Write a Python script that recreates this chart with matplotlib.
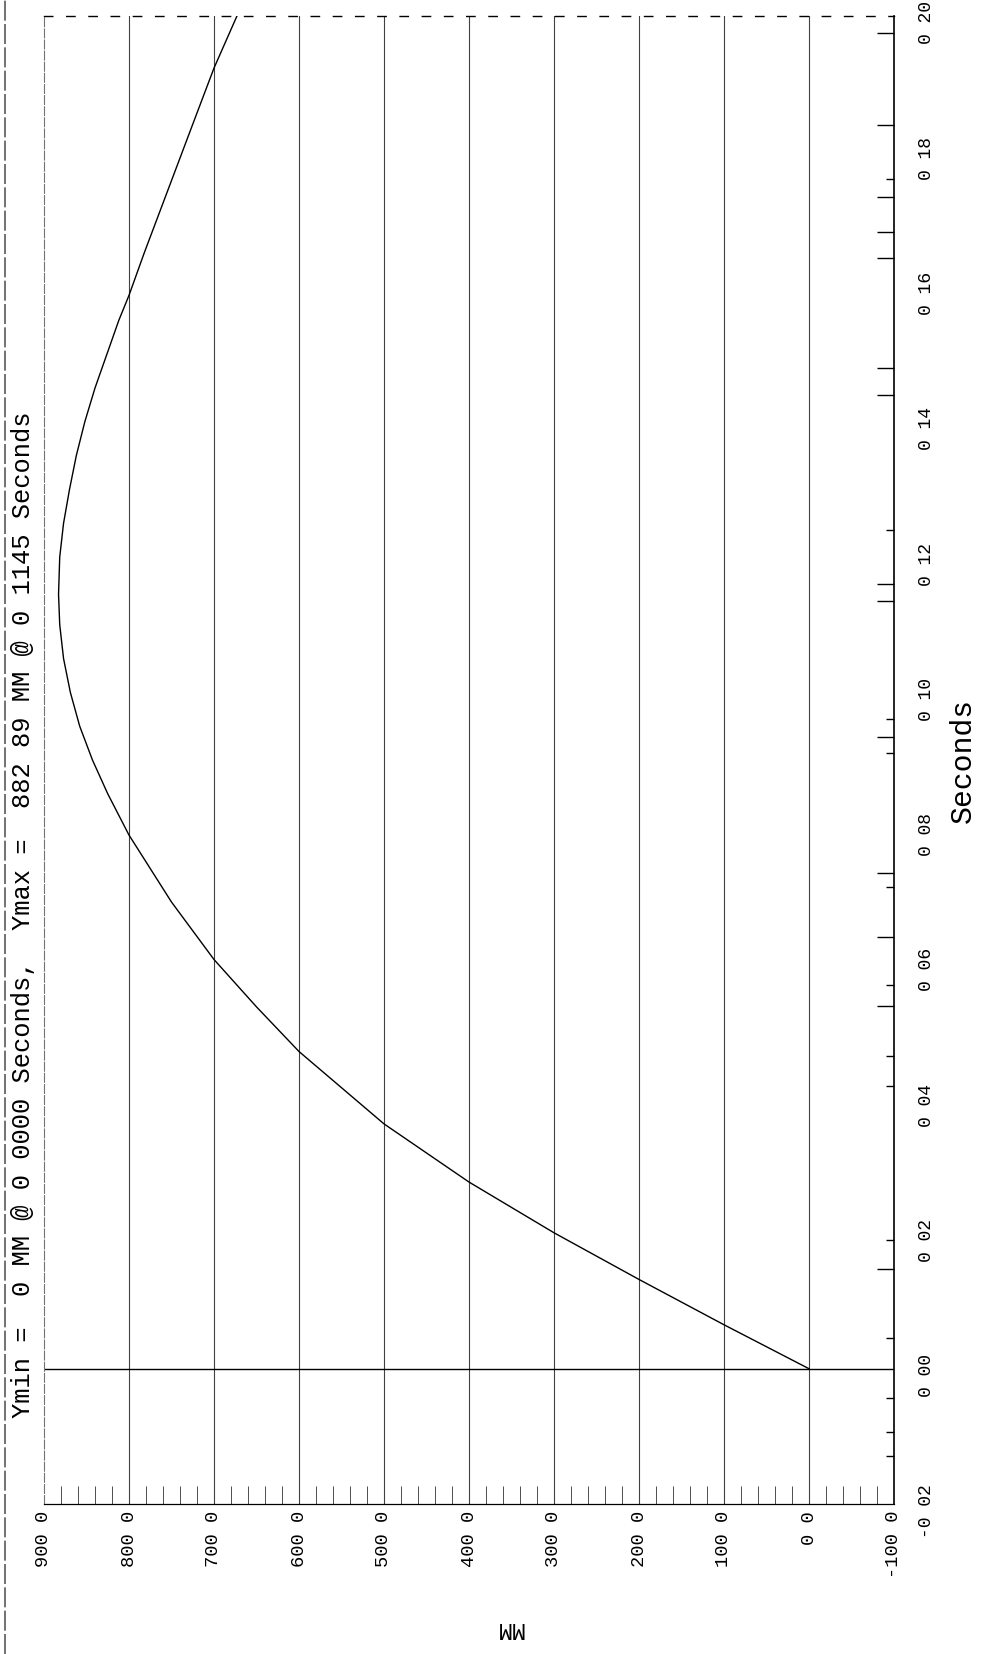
import matplotlib
matplotlib.use('Agg')
import matplotlib.pyplot as plt
import matplotlib.transforms as mtransforms
from matplotlib.lines import Line2D

# trace: time (s) vs displacement (MM)
seconds = [0.0, 0.0065, 0.0132, 0.0201, 0.0276, 0.0362, 0.0469, 0.0535, 0.0605,
           0.0690, 0.0789, 0.0850, 0.0900, 0.0950, 0.1000, 0.1050, 0.1100, 0.1145,
           0.1200, 0.1250, 0.1300, 0.1350, 0.1400, 0.1450, 0.1500, 0.1550, 0.1587,
           0.1650, 0.1700, 0.1750, 0.1800, 0.1850, 0.1923, 0.2000]
mm = [0, 100, 200, 300, 400, 500, 600, 650, 700,
      750, 800, 825, 843, 858, 869, 877, 881.5, 882.89,
      881.5, 877, 870, 862, 852, 840, 826, 812, 800,
      782, 767, 752, 737, 722, 700, 673]

mm_ticks = [900, 800, 700, 600, 500, 400, 300, 200, 100, 0, -100]
mm_labels = ['900 0', '800 0', '700 0', '600 0', '500 0', '400 0', '300 0',
             '200 0', '100 0', '0 0', '-100 0']
sec_ticks = [-0.02, 0.0, 0.02, 0.04, 0.06, 0.08, 0.10, 0.12, 0.14, 0.16, 0.18, 0.20]
sec_labels = ['-0 02', '0 00', '0 02', '0 04', '0 06', '0 08', '0 10', '0 12',
              '0 14', '0 16', '0 18', '0 20']
# tick marks that survived the scan on the time axis
long_ticks = [0.1975, 0.1839, 0.1732, 0.1681, 0.1642, 0.1480, 0.1440, 0.1160,
              0.1135, 0.0934, 0.0733, 0.0639, 0.0537, 0.0148]
short_ticks = [0.1759, 0.1240, 0.0961, 0.0911, 0.0712, 0.0568, 0.0462, 0.0418,
               0.0191, 0.0046, -0.0044, -0.0093, -0.0129]

title = 'Ymin =  0 MM @ 0 0000 Seconds,  Ymax =  882 89 MM @ 0 1145 Seconds'

font = 'Liberation Mono'
W, H = 985, 1654
fig = plt.figure(figsize=(W / 100, H / 100), dpi=100)
ax = fig.add_axes([44 / W, 1 - 1504 / H, 850 / W, 1488 / H])

# the page is turned: MM runs right-to-left, seconds bottom-to-top
ax.plot(mm, seconds, color='black', lw=1.0, zorder=3)
ax.set_xlim(900, -100)
ax.set_ylim(-0.02, 0.20)

for v in mm_ticks[1:-1]:
    ax.axvline(v, color='0.25', lw=0.8, zorder=1)
ax.axhline(0, color='black', lw=1.0, zorder=2)

# MM axis (bottom)
ax.set_xticks(mm_ticks)
ax.set_xticklabels(mm_labels, rotation=90, fontfamily=font, fontsize=13.5)
ax.set_xticks(list(range(-100, 901, 20)), minor=True)
ax.tick_params(axis='x', which='major', length=0, pad=5)
ax.tick_params(axis='x', which='minor', direction='in', length=13, width=0.7,
               color='0.3')

# seconds axis (right)
ax.yaxis.tick_right()
ax.set_yticks(sec_ticks)
ax.set_yticklabels(sec_labels, rotation=90, va='center', fontfamily=font,
                   fontsize=13)
ax.set_yticks(long_ticks, minor=True)
ax.tick_params(axis='y', which='major', length=0, pad=17)
ax.tick_params(axis='y', which='minor', direction='in', length=12, width=1.0)
# labels sit a little below their ticks on the scan
shift = mtransforms.ScaledTranslation(0, -7 / 100, fig.dpi_scale_trans)
for lab in ax.get_yticklabels():
    lab.set_transform(lab.get_transform() + shift)

sec2 = ax.secondary_yaxis('right')
sec2.set_yticks([])
sec2.set_yticks(short_ticks, minor=True)
sec2.tick_params(which='minor', direction='in', length=6, width=1.0)
sec2.spines['right'].set_visible(False)

ax.spines['top'].set_linestyle((0, (6, 10)))
ax.spines['top'].set_linewidth(1.0)
ax.spines['left'].set_color('0.45')
ax.spines['left'].set_linewidth(0.8)
ax.spines['left'].set_linestyle((0, (8, 2)))
ax.spines['right'].set_linewidth(1.2)
ax.spines['bottom'].set_linewidth(0.9)

fig.text(23 / W, 1 - 1418 / H, title, rotation=90, ha='center', va='bottom',
         fontfamily=font, fontsize=18.4)
fig.text(963 / W, 1 - 760 / H, 'Seconds', rotation=90, ha='center', va='center',
         fontfamily=font, fontsize=21.5)
fig.text(509 / W, 1 - 1629 / H, 'MM', rotation=180, ha='center', va='center',
         fontfamily=font, fontsize=17)

# scanned page edge on the left
fig.add_artist(Line2D([5 / W, 5 / W], [0, 1], color='0.35', lw=1.2,
                      ls=(0, (12, 2))))

fig.savefig('out.png', dpi=100)
